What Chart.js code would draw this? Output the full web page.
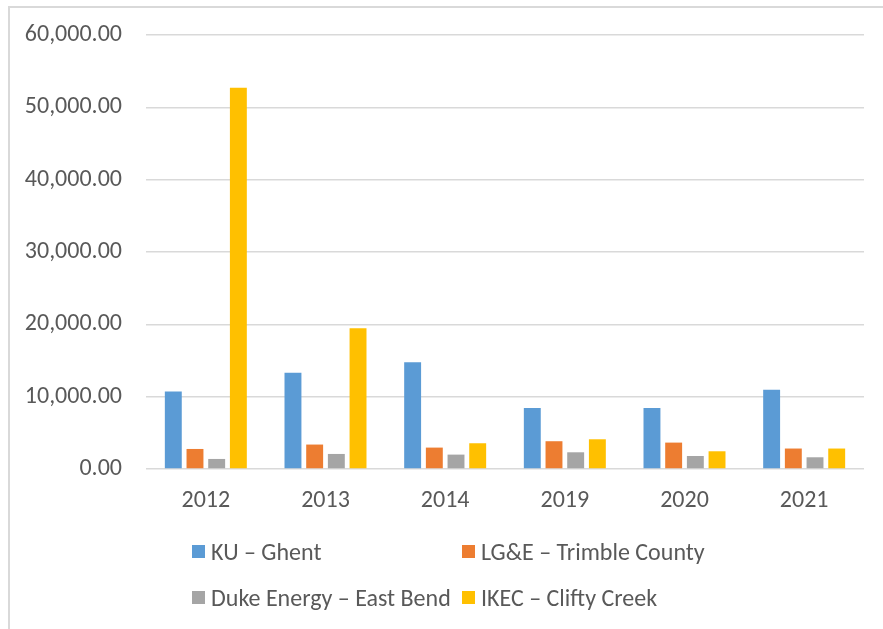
<!DOCTYPE html>
<html>
<head>
<meta charset="utf-8">
<script src="https://cdn.jsdelivr.net/npm/chart.js@4.4.1/dist/chart.umd.min.js"></script>
<style>
  html, body { margin: 0; padding: 0; background: #fff; }
  body { width: 883px; height: 629px; position: relative; overflow: hidden; font-family: Carlito, Lato, sans-serif; }
  #frame { position: absolute; left: 8px; top: 6px; right: -4px; bottom: -4px; border-left: 2px solid #d9d9d9; border-top: 2px solid #d9d9d9; }
  #c { position: absolute; left: 0; top: 0; }
  .lg { position: absolute; font-size: 24px; color: #595959; white-space: nowrap; line-height: 26px; }
  .lg span.sw { position: absolute; left: 0; top: 6px; width: 13px; height: 13px; }
  .lg span.tx { position: absolute; left: 19px; top: 0; }
</style>
</head>
<body>
<div id="frame"></div>
<canvas id="c" width="883" height="629"></canvas>
<div id="legend"></div>
<script>
const categories = ['2012', '2013', '2014', '2019', '2020', '2021'];
const seriesNames = ['KU \u2013 Ghent', 'LG&E \u2013 Trimble County', 'Duke Energy \u2013 East Bend', 'IKEC \u2013 Clifty Creek'];
const kuGhent = [10700, 13300, 14750, 8450, 8450, 10950];
const lgeTrimble = [2770, 3380, 2960, 3840, 3650, 2830];
const dukeEastBend = [1390, 2080, 1990, 2310, 1800, 1620];
const ikecClifty = [52700, 19450, 3560, 4110, 2450, 2830];
const yTicks = [0, 10000, 20000, 30000, 40000, 50000, 60000];

const colors = ['#5B9BD5', '#ED7D31', '#A5A5A5', '#FFC000'];
const seriesValues = [kuGhent, lgeTrimble, dukeEastBend, ikecClifty];
const FONT = 'Carlito, Lato, sans-serif';
const TEXT = '#595959';

const datasets = seriesValues.map((vals, i) => ({
  label: seriesNames[i],
  data: vals,
  backgroundColor: colors[i],
  borderWidth: 0,
  categoryPercentage: 0.725,
  barPercentage: 0.78
}));

new Chart(document.getElementById('c'), {
  type: 'bar',
  data: { labels: categories, datasets },
  options: {
    responsive: false,
    animation: false,
    devicePixelRatio: 1,
    layout: { padding: { left: 0, top: 35, right: 19, bottom: 110 } },
    plugins: { legend: { display: false }, tooltip: { enabled: false } },
    scales: {
      x: {
        grid: { display: false, drawTicks: false },
        border: { display: false },
        ticks: { color: TEXT, font: { family: FONT, size: 24 }, padding: 18, maxRotation: 0 },
        afterFit: (s) => { s.height = 50; s.paddingLeft = 0; s.paddingRight = 0; }
      },
      y: {
        min: 0,
        max: 60000,
        afterBuildTicks: (s) => { s.ticks = yTicks.map(v => ({ value: v })); },
        grid: { color: '#d9d9d9', lineWidth: 1.5, drawTicks: false },
        border: { display: false },
        ticks: {
          color: TEXT,
          font: { family: FONT, size: 24 },
          padding: 24,
          callback: (v) => Number(v).toLocaleString('en-US', { minimumFractionDigits: 2, maximumFractionDigits: 2 })
        },
        afterFit: (s) => { s.width = 146; s.paddingTop = 0; s.paddingBottom = 0; }
      }
    }
  }
});

// legend (2 x 2 grid)
const legendPos = [[192, 539], [462, 539], [192, 585], [462, 585]];
const lg = document.getElementById('legend');
seriesNames.forEach((name, i) => {
  const d = document.createElement('div');
  d.className = 'lg';
  d.style.left = legendPos[i][0] + 'px';
  d.style.top = legendPos[i][1] + 'px';
  const sw = document.createElement('span');
  sw.className = 'sw';
  sw.style.background = colors[i];
  const tx = document.createElement('span');
  tx.className = 'tx';
  tx.textContent = name;
  d.appendChild(sw);
  d.appendChild(tx);
  lg.appendChild(d);
});
</script>
</body>
</html>
